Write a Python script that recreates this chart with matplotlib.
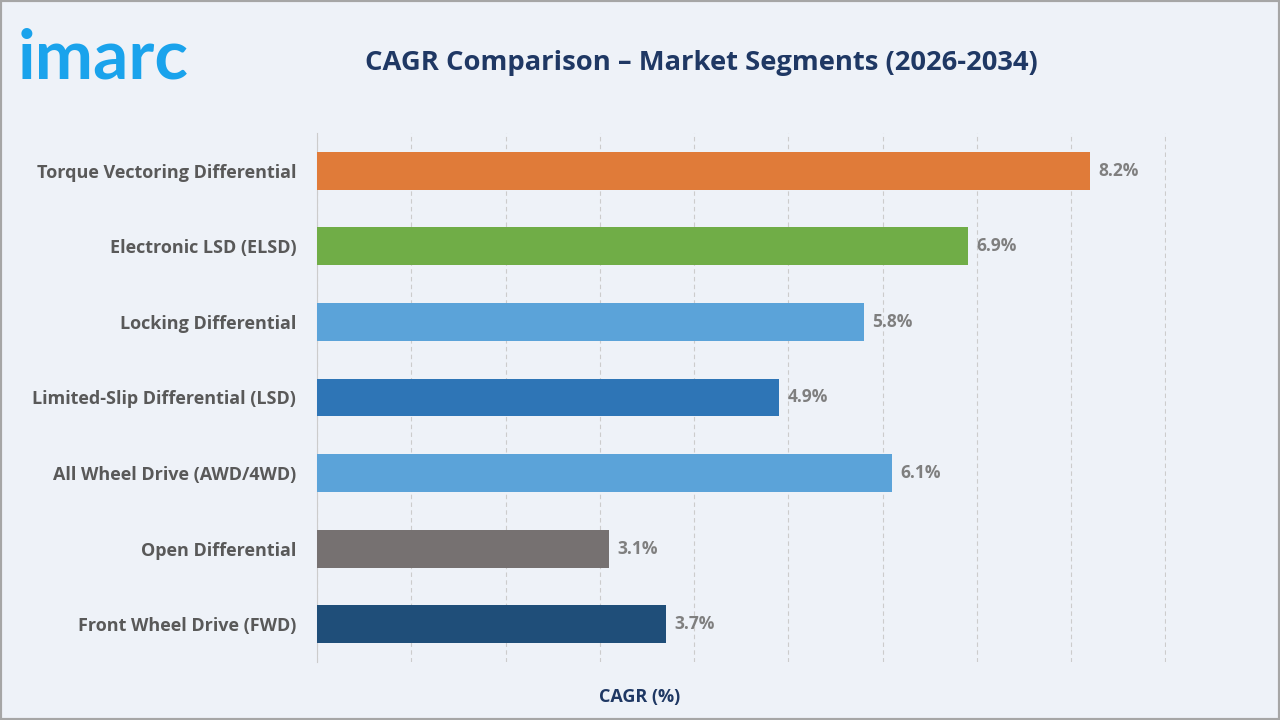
import matplotlib
matplotlib.use('Agg')
import matplotlib.pyplot as plt
from matplotlib.patches import Rectangle

categories = ['Torque Vectoring Differential', 'Electronic LSD (ELSD)', 'Locking Differential',
              'Limited-Slip Differential (LSD)', 'All Wheel Drive (AWD/4WD)', 'Open Differential',
              'Front Wheel Drive (FWD)']
cagr = [8.2, 6.9, 5.8, 4.9, 6.1, 3.1, 3.7]
colors = ['#E07B39', '#70AD47', '#5BA3D9', '#2E75B6', '#5BA3D9', '#767171', '#1F4E79']

BG = '#EEF2F8'
plt.rcParams['font.family'] = ['Open Sans', 'DejaVu Sans']

fig = plt.figure(figsize=(12.8, 7.2), dpi=100, facecolor=BG)
fig.patches.append(Rectangle((0, 0), 1, 1, transform=fig.transFigure, fill=False,
                             edgecolor='#A6A6A6', linewidth=3))

ax = fig.add_axes([0.2477, 0.0806, 0.6632, 0.7347])
ax.set_facecolor(BG)
y = list(range(len(categories)))
ax.barh(y, cagr, height=0.5, color=colors, zorder=3)
for yi, v in zip(y, cagr):
    ax.text(v + 0.09, yi, f'{v}%', va='center', ha='left', fontsize=12.5,
            fontweight='bold', color='#7F7F7F', zorder=4)

ax.set_xlim(0, 9.005)
ax.set_ylim(len(categories) - 0.5, -0.5)
ax.set_xticks(range(0, 10))
ax.set_xticklabels([])
ax.tick_params(axis='x', length=0)
ax.set_yticks(y)
ax.set_yticklabels(categories, fontsize=13, fontweight='bold', color='#595959')
ax.tick_params(axis='y', length=0, pad=15)
ax.grid(axis='x', linestyle=(0, (4, 3)), color='#CCCCCC', linewidth=0.8, zorder=0)
for s in ['top', 'right', 'bottom']:
    ax.spines[s].set_visible(False)
ax.spines['left'].set_color('#CCCCCC')

fig.text(0.548, 0.913, 'CAGR Comparison – Market Segments (2026-2034)', ha='center', va='center',
         fontsize=19.7, fontweight='bold', color='#1F3864')
fig.text(0.5, 0.032, 'CAGR (%)', ha='center', va='center', fontsize=13,
         fontweight='bold', color='#1F3864')
fig.text(0.014, 0.918, 'imarc', ha='left', va='center', fontsize=50, fontweight='bold',
         color='#1AA3EC', family=['Lato', 'DejaVu Sans'])

fig.savefig('out.png', dpi=100, facecolor=BG)
plt.close(fig)
